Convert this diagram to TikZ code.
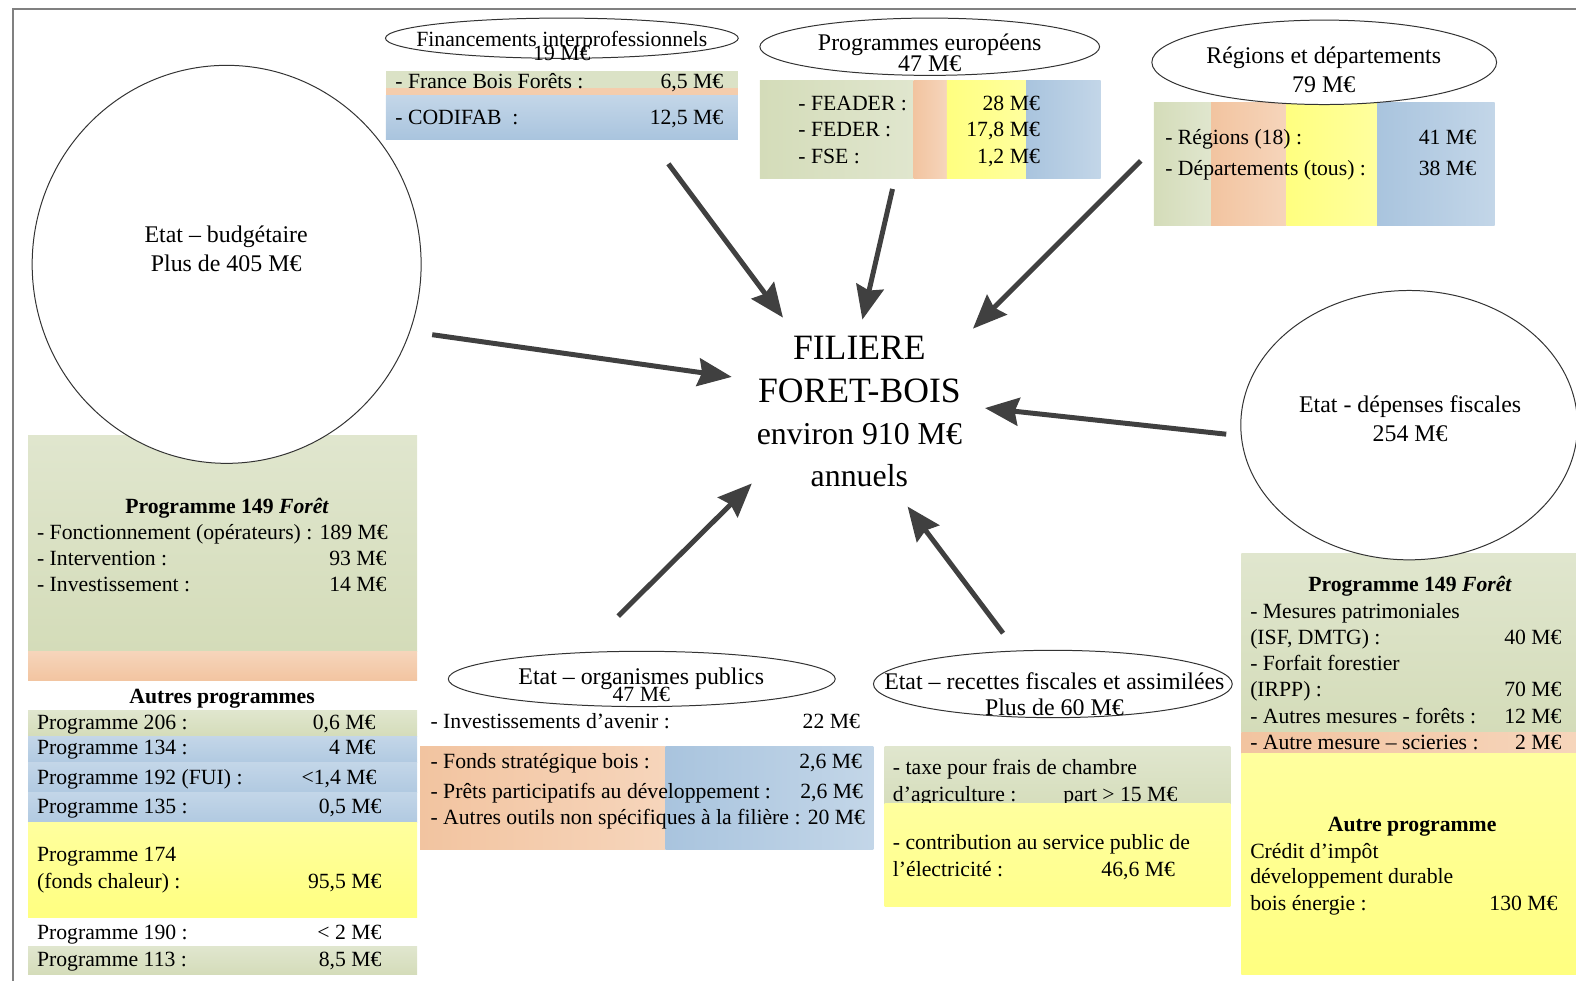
\documentclass[tikz,border=0pt]{standalone}
\usepackage{fontspec}
\setmainfont{Liberation Serif}
\usetikzlibrary{arrows.meta,positioning,shapes.geometric}
\newcommand\px{0.505pt}
\newcommand\corps{\fontsize{10.9}{13}\selectfont}
\newcommand\grand{\fontsize{12}{14}\selectfont}
\definecolor{vertF}{HTML}{D4DCB9}
\definecolor{vertC}{HTML}{E0E6CE}
\definecolor{orangeF}{HTML}{F2C4A0}
\definecolor{orangeC}{HTML}{F6D5BB}
\definecolor{jauneF}{HTML}{FFFF80}
\definecolor{jauneC}{HTML}{FFFF9E}
\definecolor{bleuF}{HTML}{A9C4DE}
\definecolor{bleuC}{HTML}{C3D6E8}
\definecolor{gris}{HTML}{404040}
\tikzset{
  txt/.style={inner sep=0pt, text height=6.5pt, text depth=0pt, font=\corps},
  gauche/.style={txt, anchor=west},
  droite/.style={txt, anchor=east},
  titre/.style={txt, font=\grand, text height=7.2pt},
  ovale/.style={ellipse, draw=black!80, line width=0.5pt, fill=white, inner sep=0pt},
  fleche/.style={draw=gris, line width=2.5pt, -{Stealth[length=17pt,width=14pt,inset=2pt]}},
  centre/.style={inner sep=0pt, text depth=0pt, font=\fontsize{17.9}{20}\selectfont, text height=11.8pt},
  centreb/.style={inner sep=0pt, text depth=0pt, font=\fontsize{16}{18}\selectfont, text height=10.6pt}
}
\begin{document}
\begin{tikzpicture}[x=\px, y=-\px]
\useasboundingbox (0,0) rectangle (1568,976);
\draw[black!50, line width=1pt] (13,976) -- (13,9) -- (1568,9);

% fonds
\fill[vertC!60!vertF] (384,70.5) rectangle (734,87.5);
\fill[orangeC!50!orangeF] (384,87.5) rectangle (734,95.5);
\shade[top color=bleuC, bottom color=bleuF] (384,95.5) rectangle (734,139);
\foreach \a/\b/\col in {756/909/vert, 909/942/orange, 942/1021/jaune, 1021/1095/bleu}
  \shade[left color=\col F, right color=\col C] (\a,80) rectangle (\b,178);
\foreach \a/\b/\col in {1148/1205/vert, 1205/1280/orange, 1280/1370/jaune, 1370/1487/bleu}
  \shade[left color=\col F, right color=\col C] (\a,101.5) rectangle (\b,224);
\shade[top color=vertC, bottom color=vertF] (28,433) rectangle (415,648);
\shade[top color=orangeC, bottom color=orangeF] (28,648) rectangle (415,677.5);
\shade[top color=vertC, bottom color=vertF] (28,707) rectangle (415,733);
\foreach \a/\b in {733/759, 759/788, 788/818}
  \shade[top color=bleuC, bottom color=bleuF!70!bleuC] (28,\a) rectangle (415,\b);
\shade[top color=jauneC, bottom color=jauneF] (28,818) rectangle (415,912.5);
\shade[top color=vertC, bottom color=vertF] (28,942) rectangle (415,970);
\shade[left color=orangeF, right color=orangeC] (418,743) rectangle (662,845.5);
\shade[left color=bleuF, right color=bleuC] (662,743) rectangle (869,845.5);
\shade[top color=vertC, bottom color=vertF] (880,743) rectangle (1224,810);
\shade[top color=vertC, bottom color=vertF] (1235,551) rectangle (1568,729);
\shade[left color=orangeF, right color=orangeC] (1235,729) rectangle (1568,750);
\shade[top color=jauneC, bottom color=jauneF] (1235,750) rectangle (1568,970);

% listes
\node[gauche] (fbf) at (393,81.5) {- France Bois Forêts :};
\node[droite] (fbfv) at (720,81.5) {6,5 M€};
\node[gauche] (codif) at (393,117) {- CODIFAB\ \ :};
\node[droite] (codifv) at (720,117) {12,5 M€};
\foreach \y/\l/\v [count=\i] in {103.5/{- FEADER :}/{28 M€}, 129/{- FEDER :}/{17,8 M€}, 156/{- FSE :}/{1,2 M€}}
{
  \node[gauche] (eu\i) at (794,\y) {\l};
  \node[droite] (euv\i) at (1035,\y) {\v};
}
\node[gauche] (reg) at (1159,137) {- Régions (18) :};
\node[droite] (regv) at (1469,137) {41 M€};
\node[gauche] (dep) at (1159,168) {- Départements (tous) :};
\node[droite] (depv) at (1469,168) {38 M€};

\node[txt] (p149) at (226,504) {\textbf{Programme 149 \textit{Forêt}}};
\node[gauche] (fonc) at (36.5,530) {- Fonctionnement (opérateurs) : 189 M€};
\node[gauche] (interv) at (36.5,556) {- Intervention :};
\node[droite] (intervv) at (385,556) {93 M€};
\node[gauche] (invest) at (36.5,582) {- Investissement :};
\node[droite] (investv) at (385,582) {14 M€};
\node[txt] (autres) at (221,693) {\textbf{Autres programmes}};
\foreach \y/\r/\l/\v [count=\i] in {719.5/374/{Programme 206 :}/{0,6 M€}, 744/374/{Programme 134 :}/{4 M€},
    774/375/{Programme 192 (FUI) :}/{<1,4 M€}, 803/380/{Programme 135 :}/{0,5 M€},
    928/380/{Programme 190 :}/{< 2 M€}, 955/380/{Programme 113 :}/{8,5 M€}}
{
  \node[gauche] (ap\i) at (36.5,\y) {\l};
  \node[droite] (apv\i) at (\r,\y) {\v};
}
\node[gauche] (p174) at (36.5,851) {Programme 174};
\node[gauche] (chaleur) at (36.5,877.5) {(fonds chaleur) :};
\node[droite] (chaleurv) at (380,877.5) {95,5 M€};

\node[gauche] (avenir) at (428,718) {- Investissements d’avenir :};
\node[droite] (avenirv) at (856,718) {22 M€};
\node[gauche] (fsb) at (428,758) {- Fonds stratégique bois :};
\node[droite] (fsbv) at (858,758) {2,6 M€};
\node[gauche] (prets) at (428,788) {- Prêts participatifs au développement :};
\node[droite] (pretsv) at (859,788) {2,6 M€};
\node[gauche] (outils) at (428,814) {- Autres outils non spécifiques à la filière : 20 M€};

\node[gauche] (taxe) at (888,764) {- taxe pour frais de chambre};
\node[gauche] (agri) at (888,791) {d’agriculture :};
\node[gauche] (agriv) at (1057.5,791) {part > 15 M€};
\shade[top color=jauneC, bottom color=jauneF!60!jauneC] (880,799) rectangle (1224,902);
\node[gauche] (cspe) at (888,839) {- contribution au service public de};
\node[gauche] (elec) at (888,865.5) {l’électricité :};
\node[gauche] (elecv) at (1095.5,865.5) {46,6 M€};

\node[txt] (p149b) at (1403,582) {\textbf{Programme 149 \textit{Forêt}}};
\node[gauche] (patri) at (1243.5,609) {- Mesures patrimoniales};
\node[gauche] (isf) at (1243.5,635) {(ISF, DMTG) :};
\node[droite] (isfv) at (1554,635) {40 M€};
\node[gauche] (forfait) at (1243.5,661) {- Forfait forestier};
\node[gauche] (irpp) at (1243.5,687) {(IRPP) :};
\node[droite] (irppv) at (1554,687) {70 M€};
\node[gauche] (forets) at (1243.5,713) {- Autres mesures - forêts :};
\node[droite] (foretsv) at (1554,713) {12 M€};
\node[gauche] (scier) at (1243.5,739) {- Autre mesure – scieries :};
\node[droite] (scierv) at (1554,739) {2 M€};
\node[txt] (autre) at (1405,821) {\textbf{Autre programme}};
\node[gauche] (credit) at (1243.5,847.5) {Crédit d’impôt};
\node[gauche] (durable) at (1243.5,873) {développement durable};
\node[gauche] (boisen) at (1243.5,899.5) {bois énergie :};
\node[droite] (boisenv) at (1550,899.5) {130 M€};

% sources
\node[ovale, minimum width=387*\px, minimum height=396*\px] (etat) at (225.5,263) {};
\node[ovale, minimum width=351*\px, minimum height=40*\px] (fi) at (559,38) {};
\node[ovale, minimum width=338*\px, minimum height=57*\px] (pe) at (925,46.5) {};
\node[ovale, minimum width=343*\px, minimum height=84*\px] (rd) at (1317.5,62) {};
\node[ovale, minimum width=335*\px, minimum height=268*\px] (df) at (1402,423) {};
\node[ovale, minimum width=385*\px, minimum height=55*\px] (op) at (638.5,675.5) {};
\node[ovale, minimum width=357*\px, minimum height=67*\px] (rf) at (1047.5,680.5) {};
\node[titre] (etat1) at (225,234) {Etat – budgétaire};
\node[titre] (etat2) at (225,263) {Plus de 405 M€};
\node[txt] (fi1) at (559,40) {Financements interprofessionnels};
\node[txt] (fi2) at (559,54) {19 M€};
\node[titre] (pe1) at (925,43) {Programmes européens};
\node[titre] (pe2) at (925,64.5) {47 M€};
\node[titre] (rd1) at (1317,56.5) {Régions et départements};
\node[titre] (rd2) at (1317,84.5) {79 M€};
\node[titre] (df1) at (1403,403) {Etat - dépenses fiscales};
\node[titre] (df2) at (1403,432) {254 M€};
\node[titre] (op1) at (638,673.5) {Etat – organismes publics};
\node[txt] (op2) at (638,691.5) {47 M€};
\node[titre] (rf1) at (1049,678.5) {Etat – recettes fiscales et assimilées};
\node[titre] (rf2) at (1049,704.5) {Plus de 60 M€};

% filiere
\node[centre] (filiere) at (855,346) {FILIERE};
\node[centre] (foret) at (855,389) {FORET-BOIS};
\node[centreb] (montant) at (855,432) {environ 910 M€};
\node[centreb] (annuels) at (855,474) {annuels};

\coordinate (d1) at (665,163);  \coordinate (f1) at (779,316);
\coordinate (d2) at (888,188);  \coordinate (f2) at (858,318);
\coordinate (d3) at (1135,160); \coordinate (f3) at (968,327);
\coordinate (d4) at (430,333);  \coordinate (f4) at (728,375);
\coordinate (d5) at (1220,432); \coordinate (f5) at (980,406);
\coordinate (d6) at (615,613);  \coordinate (f6) at (748,481);
\coordinate (d7) at (998,630);  \coordinate (f7) at (903,504);
\foreach \i in {1,...,7}
  \draw[fleche] (d\i) -- (f\i);
\end{tikzpicture}
\end{document}
